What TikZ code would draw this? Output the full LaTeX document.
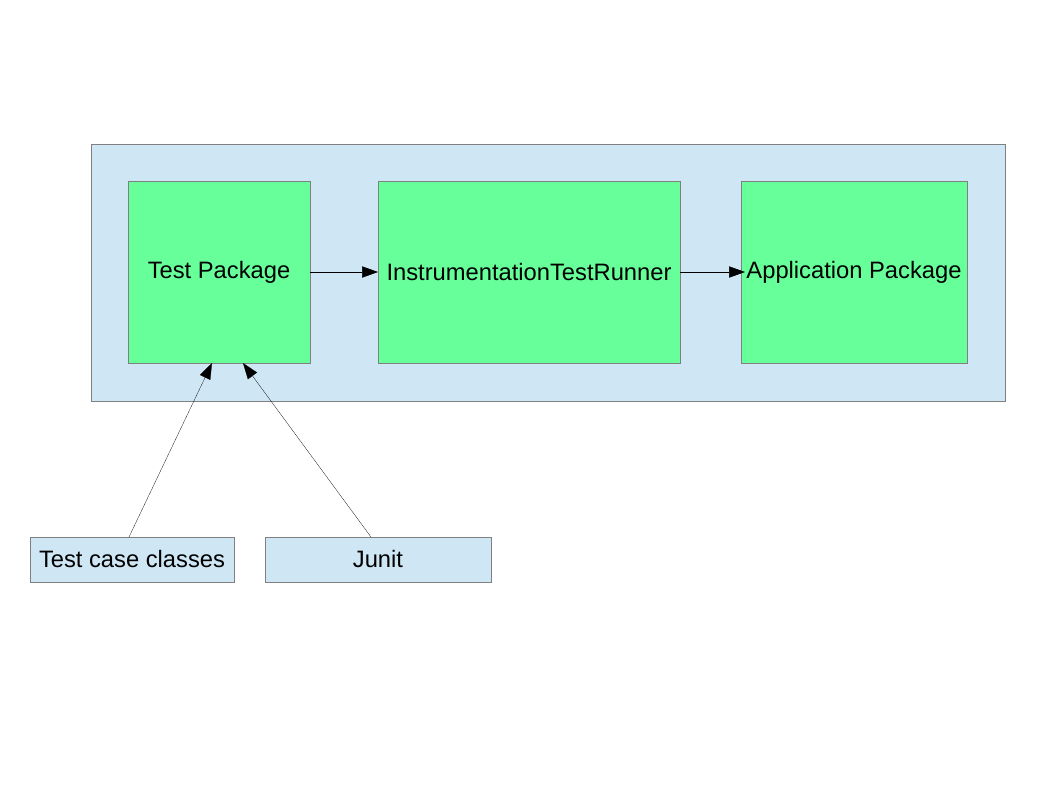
\documentclass[tikz,border=0pt]{standalone}
\usepackage{fontspec}
\setmainfont{Liberation Sans}
\usetikzlibrary{arrows.meta}
\definecolor{frameblue}{HTML}{CFE7F5}
\definecolor{pkggreen}{HTML}{66FF99}
\definecolor{edgegray}{HTML}{808080}
\tikzset{
  pkgbox/.style={draw=edgegray,fill=pkggreen,inner sep=0pt,outer sep=0pt,minimum height=136.5pt},
  srcbox/.style={draw=edgegray,fill=frameblue,inner sep=0pt,outer sep=0pt,minimum height=33.75pt},
  link/.style={-{Triangle[length=12pt,width=8.5pt]},black}
}
\begin{document}
\begin{tikzpicture}[x=0.75pt,y=-0.75pt,font=\fontsize{17.8pt}{21pt}\selectfont]
		\useasboundingbox[fill=white] (0,0) rectangle (1058,794);
		\node[draw=edgegray,fill=frameblue,inner sep=0pt,minimum width=685.5pt,minimum height=192.75pt] (device) at (548,272.5) {};
		\node[pkgbox,minimum width=136.5pt] (testpkg) at (219,272) {Test Package};
		\node[pkgbox,minimum width=226.5pt] (runner) at (529,272) {InstrumentationTestRunner};
		\node[pkgbox,minimum width=169.5pt] (apppkg) at (854,272) {Application Package};
		\node[srcbox,minimum width=153pt] (cases) at (132,559.5) {Test case classes};
		\node[srcbox,minimum width=169.5pt] (junit) at (378,559.5) {Junit};
		\draw[link,thin] (testpkg.east) -- (runner.west);
		\draw[link,thin] (runner.east) -- ([xshift=3pt]apppkg.west);
		\draw[link,very thin] ([xshift=-2.25pt]cases.north) -- ([xshift=-5.25pt]testpkg.south);
		\draw[link,very thin] ([xshift=-5.25pt]junit.north) -- ([xshift=18pt]testpkg.south);
\end{tikzpicture}
\end{document}
